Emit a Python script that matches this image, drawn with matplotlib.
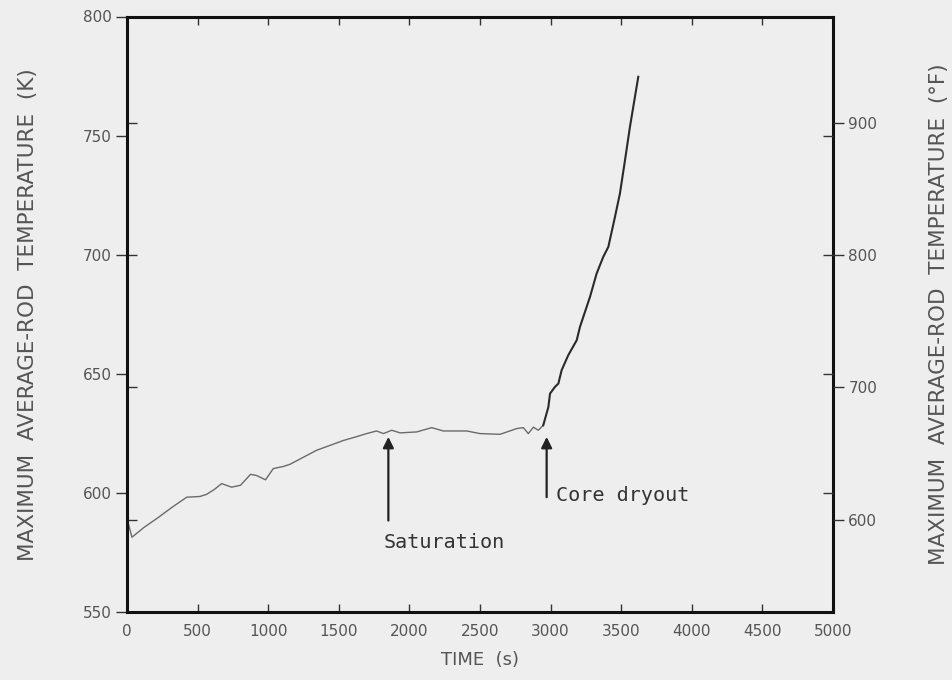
import matplotlib
matplotlib.use("Agg")
import matplotlib.pyplot as plt
import numpy as np

# Maximum average-rod temperature history
time_s = [0, 35, 120, 210, 320, 423, 517, 564, 620, 670, 741, 804, 875, 918, 981,
          1036, 1107, 1154, 1250, 1343, 1440, 1532, 1620, 1697, 1768, 1816, 1875,
          1934, 2052, 2158, 2240, 2406, 2500, 2642, 2760, 2807, 2842, 2878, 2913,
          2948, 2984, 2996, 3031, 3055, 3078, 3125, 3185, 3208, 3279, 3326, 3373,
          3409, 3456, 3491, 3527, 3562, 3621]
temp_K = [589.3, 581.4, 585.5, 589.2, 594.0, 598.2, 598.5, 599.4, 601.5, 603.9,
          602.4, 603.2, 607.8, 607.3, 605.5, 610.2, 611.1, 612.0, 615.0, 617.9,
          620.0, 622.0, 623.5, 624.9, 626.0, 624.9, 626.3, 625.2, 625.6, 627.4,
          626.0, 626.0, 624.9, 624.6, 627.0, 627.4, 624.9, 627.6, 626.3, 628.4,
          636.0, 641.7, 644.5, 645.9, 651.5, 657.8, 664.1, 669.7, 682.3, 692.1,
          699.1, 703.3, 715.9, 725.7, 739.7, 753.7, 774.7]

x_ticks = [0, 500, 1000, 1500, 2000, 2500, 3000, 3500, 4000, 4500, 5000]
k_ticks = [550, 600, 650, 700, 750, 800]
f_ticks = [600, 700, 800, 900]

# Event markers: time, arrow tail K, arrow head K
sat_time, sat_tail, sat_head = 1851, 588.4, 623.5
dry_time, dry_tail, dry_head = 2972, 598.2, 623.5


def k_to_f(k):
    return (np.asarray(k) - 273.15) * 9.0 / 5.0 + 32.0


def f_to_k(f):
    return (np.asarray(f) - 32.0) * 5.0 / 9.0 + 273.15


bg = "#eeeeee"
label_col = "#555555"

fig = plt.figure(figsize=(9.53, 6.80), dpi=100, facecolor=bg)
ax = fig.add_axes([127 / 953, 1 - 612 / 680, (833 - 127) / 953, (612 - 16.5) / 680])
ax.set_facecolor(bg)

t = np.array(time_s)
k = np.array(temp_K)
split = time_s.index(2948)
ax.plot(t[:split + 1], k[:split + 1], color="#6a6a6a", lw=1.0)
ax.plot(t[split:], k[split:], color="#2a2a2a", lw=1.5)

ax.set_xlim(0, 5000)
ax.set_ylim(550, 800)
ax.set_xticks(x_ticks)
ax.set_yticks(k_ticks)
ax.set_yticks(f_to_k(f_ticks), minor=True)

for sp in ax.spines.values():
    sp.set_linewidth(2.2)
    sp.set_color("#111111")

ax.tick_params(axis="y", which="major", direction="out", length=8, width=1.0,
               color="#333333", labelsize=11, labelcolor=label_col, pad=3)
ax.tick_params(axis="y", which="minor", direction="in", length=7, width=1.0,
               color="#333333")
ax.tick_params(axis="x", which="major", direction="in", length=6, width=1.0,
               color="#333333", labelsize=11, labelcolor=label_col, pad=9,
               top=True)

ax.set_xlabel("TIME  (s)", fontsize=13, color=label_col, labelpad=8)
ax.set_ylabel("MAXIMUM  AVERAGE-ROD  TEMPERATURE  (K)", fontsize=15.5,
              color=label_col, labelpad=32)

# Fahrenheit scale on the right
ax2 = ax.twinx()
ax2.set_ylim(k_to_f(550), k_to_f(800))
ax2.set_yticks(f_ticks)
ax2.set_yticks(k_to_f(k_ticks[1:-1]), minor=True)
ax2.tick_params(axis="y", which="major", direction="out", length=8, width=1.0,
                color="#333333", labelsize=11, labelcolor=label_col, pad=3)
ax2.tick_params(axis="y", which="minor", direction="in", length=7, width=1.0,
                color="#333333")
for sp in ax2.spines.values():
    sp.set_visible(False)
ax2.set_ylabel("MAXIMUM  AVERAGE-ROD  TEMPERATURE  (\u00b0F)", fontsize=15.5,
               color=label_col, labelpad=37)

# Event arrows
arrow = dict(arrowstyle="-|>", lw=1.6, color="#222222", mutation_scale=16,
             shrinkA=0, shrinkB=0)
ax.annotate("", xy=(sat_time, sat_head), xytext=(sat_time, sat_tail),
            arrowprops=arrow)
ax.annotate("", xy=(dry_time, dry_head), xytext=(dry_time, dry_tail),
            arrowprops=arrow)
ax.text(sat_time - 35, 579.3, "Saturation", family="DejaVu Sans Mono",
        fontsize=14.5, color="#333333", ha="left", va="center")
ax.text(dry_time + 65, 598.9, "Core dryout", family="DejaVu Sans Mono",
        fontsize=14.5, color="#333333", ha="left", va="center")

fig.savefig("out.png", dpi=100, facecolor=bg)
